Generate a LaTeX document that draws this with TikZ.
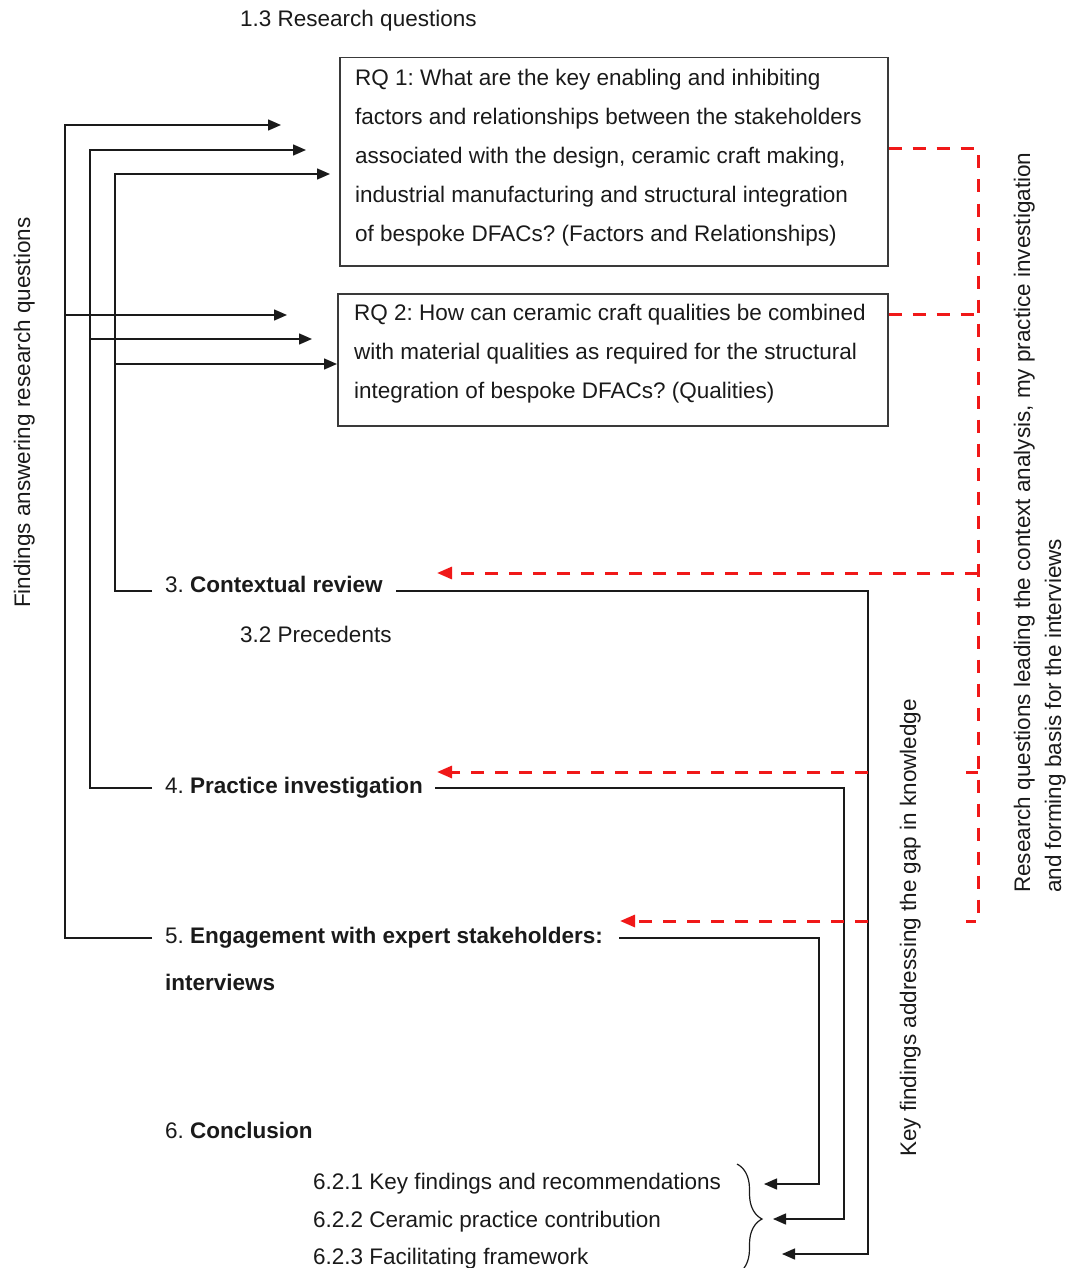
\documentclass[tikz,border=0pt]{standalone}
\usepackage{fontspec}
\setmainfont{Liberation Sans}
\usetikzlibrary{arrows.meta,decorations.pathreplacing}
\definecolor{ink}{HTML}{1A1A1A}
\definecolor{frame}{HTML}{3A3A3A}
\definecolor{hotred}{HTML}{F01818}
\frenchspacing

\begin{document}
\begin{tikzpicture}[x=1pt,y=-1pt,
  txt/.style={anchor=base west, inner sep=0pt, text=ink,
              font=\fontsize{22.5}{39}\selectfont},
  rqbox/.style={draw=frame, line width=1.5pt, anchor=north west, inner sep=0pt},
  link/.style={draw=ink, line width=1.5pt},
  linkarr/.style={link, -{Triangle[length=13pt,width=11pt]}},
  reddash/.style={draw=hotred, line width=3pt, dash pattern=on 13pt off 11pt},
  redarr/.style={reddash, -{Triangle[length=15pt,width=12pt]}},
]
\useasboundingbox (0,0) rectangle (1071,1268);

% ---------- research question boxes ----------
\node[rqbox, minimum width=548pt, minimum height=208pt] (rq1) at (339,57) {};
\node[rqbox, minimum width=550pt, minimum height=132pt] (rq2) at (337,293) {};

\node[txt, anchor=west, align=left] (rq1t) at (355,158)
  {RQ 1: What are the key enabling and inhibiting\\
   factors and relationships between the stakeholders\\
   associated with the design, ceramic craft making,\\
   industrial manufacturing and structural integration\\
   of bespoke DFACs? (Factors and Relationships)};
\node[txt, anchor=west, align=left] (rq2t) at (354,354)
  {RQ 2: How can ceramic craft qualities be combined\\
   with material qualities as required for the structural\\
   integration of bespoke DFACs? (Qualities)};

% ---------- chapter labels ----------
\node[txt] (title) at (240,27) {1.3 Research questions};
\node[txt] (ch3)  at (165,592)  {3. \textbf{Contextual review}};
\node[txt] (s32)  at (240,642)  {3.2 Precedents};
\node[txt] (ch4)  at (165,793)  {4. \textbf{Practice investigation}};
\node[txt] (ch5)  at (165,943)  {5. \textbf{Engagement with expert stakeholders:}};
\node[txt] (ch5b) at (165,990)  {\textbf{interviews}};
\node[txt] (ch6)  at (165,1138) {6. \textbf{Conclusion}};
\node[txt] (s621) at (313,1189) {6.2.1 Key findings and recommendations};
\node[txt] (s622) at (313,1227) {6.2.2 Ceramic practice contribution};
\node[txt] (s623) at (313,1264) {6.2.3 Facilitating framework};

% ---------- rotated side captions ----------
\node[txt, rotate=90] (findings) at (30,608) {Findings answering research questions};
\node[txt, rotate=90] (keyfind)  at (916,1157) {Key findings addressing the gap in knowledge};
\node[txt, rotate=90] (lead1) at (1030,893) {Research questions leading the context analysis, my practice investigation};
\node[txt, rotate=90] (lead2) at (1061,893) {and forming basis for the interviews};

% ---------- connector end points ----------
\coordinate (c3l) at (152,591);
\coordinate (c4l) at (152,788);
\coordinate (c5l) at (152,938);
\coordinate (c3r) at (396,591);
\coordinate (c4r) at (435,788);
\coordinate (c5r) at (619,938);

\coordinate (f5a) at (281,125);
\coordinate (f4a) at (306,150);
\coordinate (f3a) at (330,174);
\coordinate (f5b) at (287,315);
\coordinate (f4b) at (312,339);
\coordinate (f3b) at (rq2.west |- 0,364);

\coordinate (k1) at (764,1184);
\coordinate (k2) at (773,1219);
\coordinate (k3) at (782,1254);

\coordinate (t3) at (437,573);
\coordinate (t4) at (437,772);
\coordinate (t5) at (620,921);

% ---------- findings feeding back to the research questions ----------
\draw[linkarr] (c5l) -- (65,938) -- (65,125) -- (f5a);
\draw[linkarr] (65,315) -- (f5b);
\draw[linkarr] (c4l) -- (90,788) -- (90,150) -- (f4a);
\draw[linkarr] (90,339) -- (f4b);
\draw[linkarr] (c3l) -- (115,591) -- (115,174) -- (f3a);
\draw[linkarr] (115,364) -- (f3b);

% ---------- chapters feeding the conclusion ----------
\draw[linkarr] (c3r) -- (868,591) -- (868,1254) -- (k3);
\draw[linkarr] (c4r) -- (844,788) -- (844,1219) -- (k2);
\draw[linkarr] (c5r) -- (819,938) -- (819,1184) -- (k1);

\draw[link, line width=1.2pt, decorate, decoration={brace, amplitude=25pt}]
  (737,1164) -- (737,1274);

% ---------- research questions leading the chapters ----------
\draw[reddash] (rq1.east |- 0,149) -- (978,149) -- (978,921) -- (966,921);
\draw[reddash] (rq2.east |- 0,314) -- (978,314);
\draw[reddash] (966,772) -- (978,772);
\draw[redarr] (978,573) -- (t3);
\draw[redarr] (868,772) -- (t4);
\draw[redarr] (868,921) -- (t5);
\end{tikzpicture}
\end{document}
